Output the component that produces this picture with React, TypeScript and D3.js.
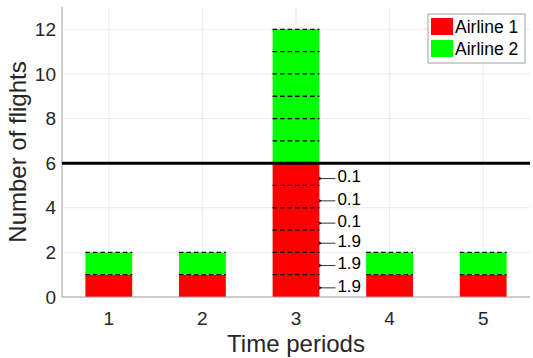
import React from "react";
import * as d3 from "d3";

const periods = [1, 2, 3, 4, 5];
const airline1 = [1, 1, 6, 1, 1];
const airline2 = [1, 1, 6, 1, 1];
const yTicks = [0, 2, 4, 6, 8, 10, 12];
const capacity = 6;
const annotations = [
  { y: 5.4, label: "0.1" },
  { y: 4.4, label: "0.1" },
  { y: 3.4, label: "0.1" },
  { y: 2.5, label: "1.9" },
  { y: 1.5, label: "1.9" },
  { y: 0.5, label: "1.9" },
];
const legendItems = [
  { name: "Airline 1", color: "#ff0000" },
  { name: "Airline 2", color: "#00ff00" },
];

const W = 533, H = 358;
const left = 62, right = 530, top = 7, bottom = 297;
const font = "'Liberation Sans', Arial, Helvetica, sans-serif";

export default function App() {
  const x = d3.scaleLinear().domain([0.5, 5.5]).range([left, right]);
  const y = d3.scaleLinear().domain([0, 13]).range([bottom, top]);
  const bw = (x(2) - x(1)) * 0.5;

  const bars: JSX.Element[] = [];
  periods.forEach((p, i) => {
    const a = airline1[i], b = airline2[i];
    bars.push(<rect key={"r" + i} x={x(p) - bw / 2} y={y(a)} width={bw} height={y(0) - y(a)} fill="#ff0000" />);
    bars.push(<rect key={"g" + i} x={x(p) - bw / 2} y={y(a + b)} width={bw} height={y(a) - y(a + b)} fill="#00ff00" />);
    const levels = d3.range(1, a + b + 1);
    levels.forEach((lv) => {
      bars.push(
        <line key={"d" + i + "_" + lv} x1={x(p) - bw / 2} x2={x(p) + bw / 2} y1={y(lv)} y2={y(lv)}
          stroke="#000" strokeWidth={1.3} strokeDasharray="4.5,3" />
      );
    });
  });

  const ax = x(3) + bw / 2 + 2;
  return (
    <svg width={W} height={H} style={{ position: "absolute", left: 0, top: 0, background: "#fff" }} fontFamily={font}>
      <defs>
        <marker id="ah" viewBox="0 0 10 10" refX="1" refY="5" markerWidth="6" markerHeight="6" orient="auto-start-reverse">
          <path d="M0,5 L10,1 L7,5 L10,9 Z" fill="#000" />
        </marker>
      </defs>
      {/* grid */}
      {yTicks.map((t) => (
        <line key={"gy" + t} x1={left} x2={right} y1={y(t)} y2={y(t)} stroke="#ebebeb" strokeWidth={1} />
      ))}
      {periods.map((p) => (
        <line key={"gx" + p} x1={x(p)} x2={x(p)} y1={top} y2={bottom} stroke="#ebebeb" strokeWidth={1} />
      ))}
      {bars}
      {/* axes */}
      <line x1={left} x2={left} y1={top} y2={bottom} stroke="#a0a0a0" />
      <line x1={left} x2={right} y1={bottom} y2={bottom} stroke="#a0a0a0" />
      {/* capacity line */}
      <line x1={left} x2={right} y1={y(capacity)} y2={y(capacity)} stroke="#000" strokeWidth={3} />
      {/* annotations */}
      {annotations.map((a, i) => (
        <g key={"an" + i}>
          <line x1={ax + 14} x2={ax + 1} y1={y(a.y) + 2} y2={y(a.y) + 2} stroke="#000" strokeWidth={0.8} markerEnd="url(#ah)" />
          <text x={ax + 16} y={y(a.y)} dy="0.35em" fontSize={17} fill="#000">{a.label}</text>
        </g>
      ))}
      {/* tick labels */}
      {yTicks.map((t) => (
        <text key={"yt" + t} x={left - 6} y={y(t)} dy="0.35em" textAnchor="end" fontSize={19} fill="#262626">{t}</text>
      ))}
      {periods.map((p) => (
        <text key={"xt" + p} x={x(p)} y={bottom + 28} textAnchor="middle" fontSize={19} fill="#262626">{p}</text>
      ))}
      <text x={(left + right) / 2} y={352} textAnchor="middle" fontSize={24} fill="#262626">Time periods</text>
      <text transform={`translate(18,${(top + bottom) / 2}) rotate(-90)`} textAnchor="middle" dy="0.35em" fontSize={24} fill="#262626">Number of flights</text>
      {/* legend */}
      <rect x={428} y={14} width={97} height={49} fill="#fff" stroke="#a0a0a0" />
      {legendItems.map((it, i) => (
        <g key={"lg" + i}>
          <rect x={431} y={18 + i * 22} width={22} height={17} fill={it.color} />
          <text x={455} y={27 + i * 22} dy="0.35em" fontSize={17.5} fill="#000">{it.name}</text>
        </g>
      ))}
    </svg>
  );
}
